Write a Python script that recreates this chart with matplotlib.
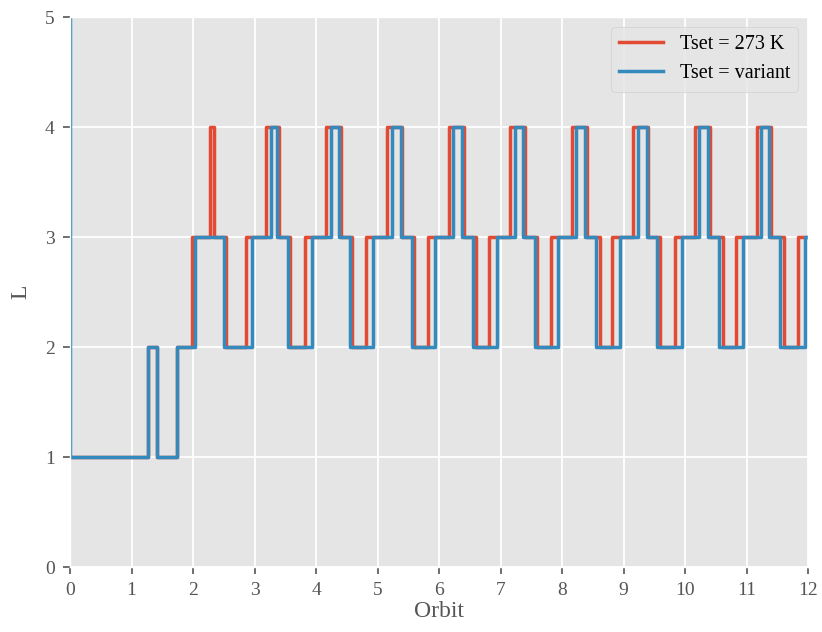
import matplotlib
matplotlib.use('Agg')
import matplotlib.pyplot as plt

# step data (steps-post): time in orbits, level L
blue_t = [0, 0, 1.26, 1.41, 1.745, 2.03, 2.51, 2.965, 3.26, 3.37, 3.54, 3.93,
          4.24, 4.38, 4.55, 4.93, 5.24, 5.38, 5.555, 5.93, 6.23, 6.37, 6.56, 6.94,
          7.24, 7.37, 7.56, 7.94, 8.23, 8.37, 8.55, 8.94, 9.23, 9.38, 9.55, 9.95,
          10.23, 10.38, 10.56, 10.94, 11.23, 11.37, 11.545, 11.95, 12]
blue_L = [6, 1, 2, 1, 2, 3, 2, 3, 4, 3, 2, 3,
          4, 3, 2, 3, 4, 3, 2, 3, 4, 3, 2, 3,
          4, 3, 2, 3, 4, 3, 2, 3, 4, 3, 2, 3,
          4, 3, 2, 3, 4, 3, 2, 3, 3]

red_t = [0, 1.26, 1.41, 1.745, 1.99, 2.28, 2.34, 2.53, 2.857, 3.18, 3.39, 3.58, 3.82,
         4.16, 4.40, 4.59, 4.81, 5.16, 5.39, 5.59, 5.82, 6.16, 6.40, 6.60, 6.82,
         7.15, 7.40, 7.60, 7.82, 8.16, 8.40, 8.61, 8.82, 9.16, 9.40, 9.60, 9.83,
         10.16, 10.41, 10.61, 10.83, 11.17, 11.40, 11.61, 11.83, 12]
red_L = [1, 2, 1, 2, 3, 4, 3, 2, 3, 4, 3, 2, 3,
         4, 3, 2, 3, 4, 3, 2, 3, 4, 3, 2, 3,
         4, 3, 2, 3, 4, 3, 2, 3, 4, 3, 2, 3,
         4, 3, 2, 3, 4, 3, 2, 3, 3]

plt.style.use('ggplot')
plt.rcParams['font.family'] = ['Liberation Serif', 'DejaVu Serif']

fig = plt.figure(figsize=(8.22, 6.32), dpi=100)
ax = fig.add_axes([0.0852, 0.1028, 0.8978, 0.8702])

ax.plot(red_t, red_L, drawstyle='steps-post', color='#E24A33', lw=2.5, label='Tset = 273 K')
ax.plot(blue_t, blue_L, drawstyle='steps-post', color='#348ABD', lw=2.5, label='Tset = variant')

ax.set_xlim(0, 12)
ax.set_ylim(0, 5)
ax.set_xticks(range(0, 13))
ax.set_yticks(range(0, 6))
ax.grid(True, color='white', lw=1.3)
ax.tick_params(labelsize=14, colors='#555555', length=5, width=1.2, pad=6, direction='out')
ax.set_xlabel('Orbit', fontsize=17, color='#555555', labelpad=1)
ax.set_ylabel('L', fontsize=17, color='#555555', labelpad=10)

ax.legend(loc='upper right', fontsize=14.5, handlelength=2.2)

plt.savefig('out.png', dpi=100)
plt.close()
